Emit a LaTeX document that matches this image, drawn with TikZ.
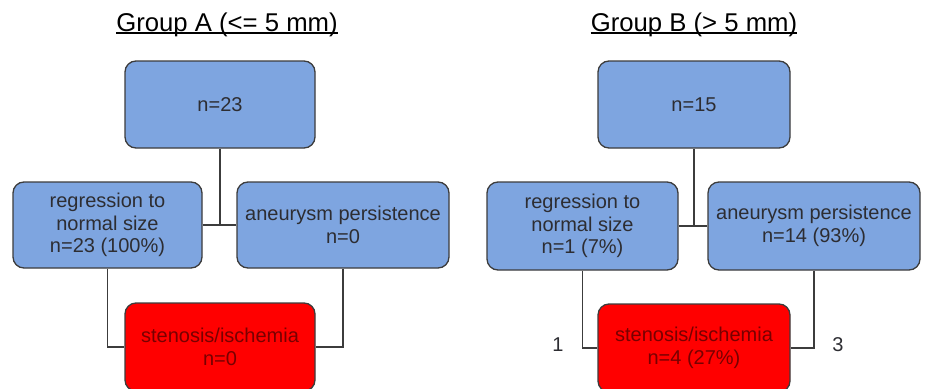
\documentclass[tikz,border=0pt]{standalone}
\usepackage{fontspec}
\setmainfont{Liberation Sans}
\definecolor{boxblue}{RGB}{126,165,224}
\definecolor{boxred}{RGB}{255,0,0}
\definecolor{edgegray}{RGB}{60,60,60}
\definecolor{txtgray}{RGB}{45,45,50}
\definecolor{txtred}{RGB}{120,0,0}
\begin{document}
\begin{tikzpicture}[x=1pt,y=-1pt,
  bluebox/.style={draw=edgegray, line width=1.3pt, fill=boxblue, rounded corners=11pt,
    align=center, text=txtgray, font=\fontsize{20}{22.5}\selectfont, inner sep=0pt},
  redbox/.style={draw=edgegray, line width=1.3pt, fill=boxred, rounded corners=11pt,
    align=center, text=txtred, font=\fontsize{20}{22.5}\selectfont, inner sep=0pt},
  conn/.style={draw=edgegray, line width=1.2pt},
  titlestyle/.style={font=\fontsize{25.7}{28}\selectfont, text=black, inner sep=0pt, anchor=base},
  numlabel/.style={font=\fontsize{20}{22}\selectfont, text=txtgray, inner sep=0pt}
]
\useasboundingbox (0,0) rectangle (925,388);
\clip (0,0) rectangle (925,388);
\fill[white] (0,0) rectangle (925,388);

% Group A
\node[titlestyle] (tA) at (227,31) {Group A (<= 5 mm)};
\draw[line width=1.4pt] ([yshift=-2pt]tA.base west) -- ([yshift=-2pt]tA.base east);
\node[bluebox, minimum width=190pt, minimum height=87pt] (topA) at (220,104.5) {n=23};
\node[bluebox, minimum width=189pt, minimum height=86pt] (leftA) at (107.5,225) {regression to\\normal size\\n=23 (100\%)};
\node[bluebox, minimum width=212pt, minimum height=86pt] (rightA) at (343,225) {aneurysm persistence\\n=0};
\node[redbox, minimum width=190pt, minimum height=88pt] (redA) at (220,347) {stenosis/ischemia\\n=0};
\coordinate (jA) at (220,225);
\draw[conn] (topA.south) -- (jA);
\draw[conn] (leftA.east) -- (rightA.west);
\draw[conn] (leftA.south) |- (redA.west);
\draw[conn] (rightA.south) |- (redA.east);

% Group B
\node[titlestyle] (tB) at (694,31) {Group B (> 5 mm)};
\draw[line width=1.4pt] ([yshift=-2pt]tB.base west) -- ([yshift=-2pt]tB.base east);
\node[bluebox, minimum width=192pt, minimum height=87pt] (topB) at (694,104.5) {n=15};
\node[bluebox, minimum width=191pt, minimum height=88pt] (leftB) at (582.5,226) {regression to\\normal size\\n=1 (7\%)};
\node[bluebox, minimum width=212pt, minimum height=88pt] (rightB) at (814,226) {aneurysm persistence\\n=14 (93\%)};
\node[redbox, minimum width=192pt, minimum height=88pt] (redB) at (694,348) {stenosis/ischemia\\n=4 (27\%)};
\coordinate (jB) at (694,226);
\draw[conn] (topB.south) -- (jB);
\draw[conn] (leftB.east) -- (rightB.west);
\draw[conn] (leftB.south) |- (redB.west);
\draw[conn] (rightB.south) |- (redB.east);
\node[numlabel] (l1) at (558,345) {1};
\node[numlabel] (l3) at (838,345) {3};
\end{tikzpicture}
\end{document}
